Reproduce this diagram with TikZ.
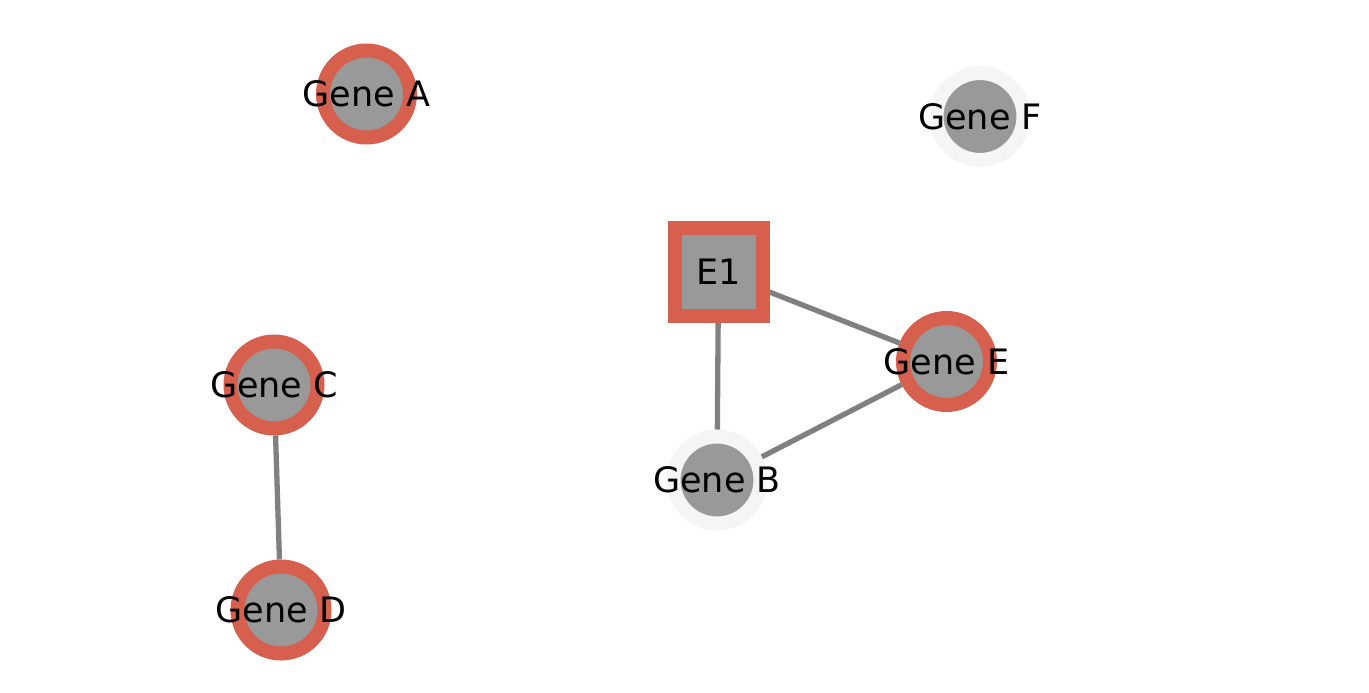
\documentclass[tikz,border=0pt]{standalone}
\usepackage{fontspec}
\setmainfont{DejaVu Sans}
\usepackage{tikz}
\usetikzlibrary{arrows,shapes}
\definecolor{hit}{HTML}{D6604D}
\definecolor{nohit}{HTML}{F5F5F5}
\definecolor{core}{HTML}{999999}
\definecolor{link}{HTML}{808080}
\tikzstyle{gene}=[circle,fill=core,draw=hit,line width=14pt,minimum size=87pt,inner sep=0pt,outer sep=7pt,label={[font=\fontsize{35}{40}\selectfont,text=black]center:#1}]
\tikzstyle{genefaint}=[gene=#1,draw=nohit]
\tikzstyle{exon}=[rectangle,fill=core,draw=hit,line width=14pt,minimum size=88pt,inner sep=0pt,outer sep=7pt,font=\fontsize{35}{40}\selectfont]
\tikzstyle{link edge} = [draw=link,line width=5.3pt]

\begin{document}
\begin{tikzpicture}[x=1pt,y=-1pt]
        \useasboundingbox (0,0) rectangle (1369,693);
        \node[gene=Gene A] (A) at (366.5,94) {};
        \node[genefaint=Gene F] (F) at (980,116.5) {};
        \node[exon] (E1) at (718.5,272) {E1};
        \node[gene=Gene E] (E) at (946.5,361.5) {};
        \node[gene=Gene C] (C) at (274,385) {};
        \node[genefaint=Gene B] (B) at (717,480) {};
        \node[gene=Gene D] (D) at (281,610) {};
        \draw[link edge] (C) to (D);
        \draw[link edge] (E1) to (B);
        \draw[link edge] (E1) to (E);
        \draw[link edge] (B) to (E);
      \end{tikzpicture}
\end{document}
